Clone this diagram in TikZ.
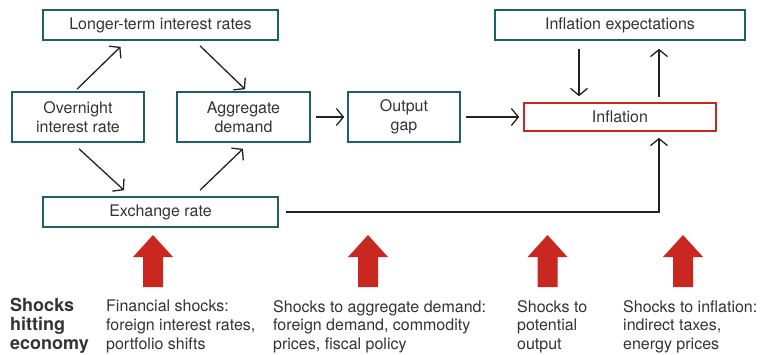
\documentclass[tikz,border=0pt]{standalone}
\usepackage{fontspec}
\setmainfont{TeX Gyre Heros}
\usepackage{xcolor}
\usepackage{tikz}
\usetikzlibrary{arrows.meta}
\definecolor{boxteal}{HTML}{1F5F66}
\definecolor{shockred}{HTML}{C8281F}
\definecolor{txtgray}{HTML}{333333}
\definecolor{arrgray}{HTML}{222222}

\begin{document}
\begin{tikzpicture}[x = 1pt, y = 1pt,
  every node/.style = {text = txtgray, font = \fontsize{16}{19}\selectfont},
  chbox/.style = {draw = boxteal, line width = 1.6pt, inner sep = 0pt, align = center},
  arr/.style = {-{Straight Barb[length=7pt, width=17pt]}, line width = 1.3pt, draw = arrgray},
  shocktxt/.style = {anchor = north west, inner sep = 0pt, align = left}]
  \useasboundingbox (0, 0) rectangle (761, -354);
  % channel boxes
  \node[chbox, minimum width = 235, minimum height = 30] at (160.5, -25) (lt) {Longer-term interest rates};
  \node[chbox, minimum width = 132, minimum height = 50] at (78, -117) (on) {Overnight\\interest rate};
  \node[chbox, minimum width = 133, minimum height = 50] at (243.5, -117) (ad) {Aggregate\\demand};
  \node[chbox, minimum width = 112, minimum height = 50] at (404, -117) (og) {Output\\gap};
  \node[chbox, minimum width = 235, minimum height = 30] at (160.5, -212) (xr) {Exchange rate};
  \node[chbox, minimum width = 250, minimum height = 30] at (620, -25) (iexp) {Inflation expectations};
  \node[chbox, draw = shockred, minimum width = 192, minimum height = 28] at (620, -117) (infl) {Inflation};
  \coordinate (bend) at (659, -212);
  % transmission arrows
  \draw[arr] ([shift={(-1, 2)}]on.north) -- ([shift={(-40, -6)}]lt.south);
  \draw[arr] ([shift={(39.5, -5)}]lt.south) -- ([shift={(1.5, 2)}]ad.north);
  \draw[arr] ([shift={(1, -6)}]on.south) -- ([shift={(-36.5, 6)}]xr.north);
  \draw[arr] ([shift={(39.5, 6)}]xr.north) -- ([shift={(-0.5, -6)}]ad.south);
  \draw[arr, shorten < = 5pt, shorten > = 3pt] (ad) -- (og);
  \draw[arr, shorten < = 5pt, shorten > = 4pt] (og) -- (infl);
  \draw[arr, shorten < = 8pt, shorten > = 6pt] ([xshift=-41]iexp.south) -- ([xshift=-41]infl.north);
  \draw[arr, shorten < = 5pt, shorten > = 8pt] ([xshift=39]infl.north) -- ([xshift=39]iexp.south);
  \draw[arr, shorten < = 7pt, shorten > = 6pt] (xr.east) -- (bend) -- ([xshift=39]infl.south);
  % shocks
  \foreach \x in {153, 368, 547.5, 683}
  {
  \fill[shockred] (\x-10, -287) -- (\x-10, -257) -- (\x-20, -257) -- (\x, -235)
    -- (\x+20, -257) -- (\x+10, -257) -- (\x+10, -287) -- cycle;
  }
  \node[shocktxt, font = \fontsize{18}{19}\selectfont\bfseries] at (10, -297.5) (hit) {Shocks\\hitting\\economy};
  \node[shocktxt, font = \fontsize{16}{18.7}\selectfont] at (106, -300) (fin) {Financial shocks:\\foreign interest rates,\\portfolio shifts};
  \node[shocktxt, font = \fontsize{16}{18.7}\selectfont] at (273, -300) (dem) {Shocks to aggregate demand:\\foreign demand, commodity\\prices, fiscal policy};
  \node[shocktxt, font = \fontsize{16}{18.7}\selectfont] at (517, -300) (pot) {Shocks to\\potential\\output};
  \node[shocktxt, font = \fontsize{16}{18.7}\selectfont] at (623, -300) (inf) {Shocks to inflation:\\indirect taxes,\\energy prices};
\end{tikzpicture}
\end{document}
